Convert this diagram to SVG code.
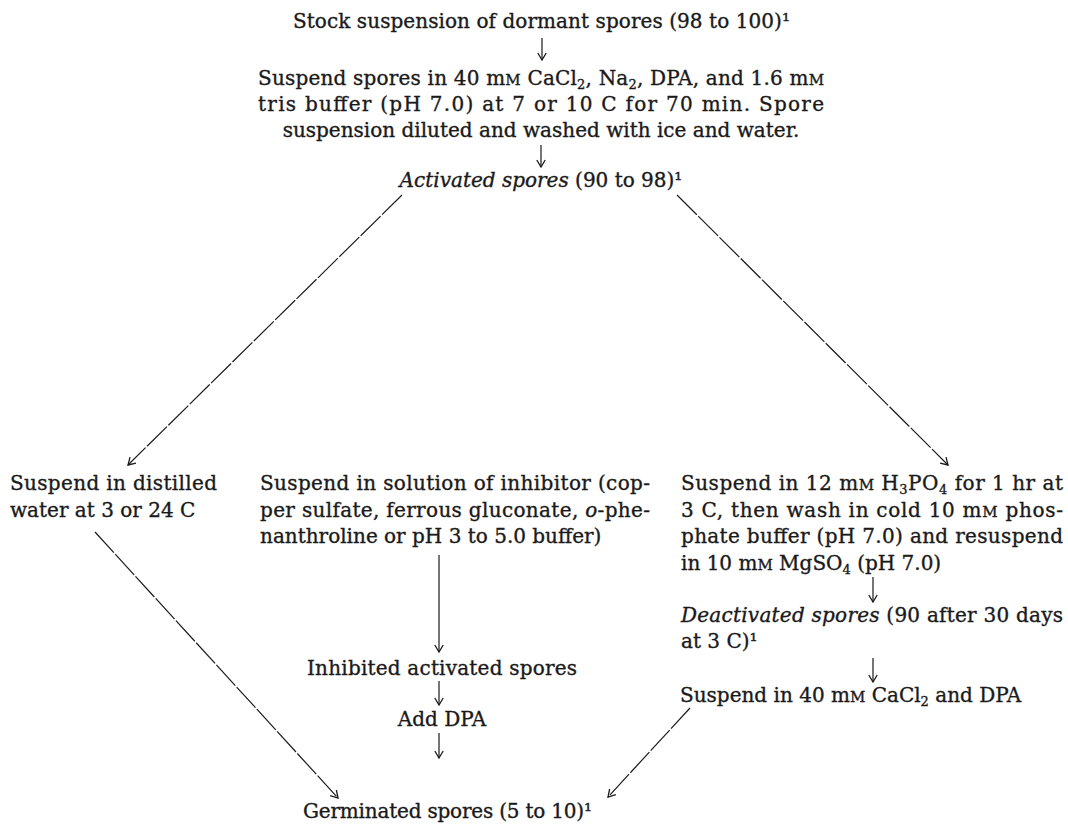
<svg xmlns="http://www.w3.org/2000/svg" width="1068" height="826" viewBox="0 0 1068 826">
<defs>
<marker id="ah" markerWidth="12" markerHeight="12" refX="10" refY="6" orient="auto" markerUnits="userSpaceOnUse">
<path d="M3,1.8 L10,6 L3,10.2" fill="none" stroke="#1a1a1a" stroke-width="1.3"/>
</marker>
</defs>
<style>
text{font-family:"DejaVu Serif","Liberation Serif",serif;font-size:20px;fill:#1a1a1a;stroke:#1a1a1a;stroke-width:0.35}
.sc{font-size:15px}
.sub{font-size:13px}
.it{font-style:italic}
.c{stroke:#1a1a1a;stroke-width:1.2;fill:none;marker-end:url(#ah)}
.d{stroke-dasharray:28 2}
</style>
<rect width="1068" height="826" fill="#fff"/>
<g id="connectors">
<line class="c" x1="542" y1="38" x2="542" y2="60"/>
<line class="c" x1="541" y1="145" x2="541" y2="167"/>
<line class="c d" x1="402" y1="195" x2="128" y2="465"/>
<line class="c d" x1="677" y1="195" x2="948" y2="465"/>
<line class="c d" x1="95" y1="532" x2="338" y2="798"/>
<line class="c d" x1="690" y1="708" x2="608" y2="797"/>
<line class="c" x1="439" y1="555" x2="439" y2="652"/>
<line class="c" x1="439" y1="681" x2="439" y2="705"/>
<line class="c" x1="439" y1="733" x2="439" y2="758"/>
<line class="c" x1="873" y1="577" x2="873" y2="602"/>
<line class="c" x1="873" y1="658" x2="873" y2="682"/>
</g>
<g id="stock">
<text x="293" y="28" textLength="497">Stock suspension of dormant spores (98 to 100)¹</text>
</g>
<g id="activation">
<text x="258" y="85" textLength="566">Suspend spores in 40 m<tspan class="sc">M</tspan> CaCl<tspan class="sub" dy="4">2</tspan><tspan dy="-4">, Na</tspan><tspan class="sub" dy="4">2</tspan><tspan dy="-4">, DPA, and 1.6 m</tspan><tspan class="sc">M</tspan></text>
<text x="258" y="111" textLength="566">tris buffer (pH 7.0) at 7 or 10 C for 70 min. Spore</text>
<text x="541" y="137" text-anchor="middle">suspension diluted and washed with ice and water.</text>
</g>
<g id="activated">
<text x="541" y="187" text-anchor="middle"><tspan class="it">Activated spores</tspan> (90 to 98)¹</text>
</g>
<g id="water">
<text x="10" y="490" textLength="207">Suspend in distilled</text>
<text x="10" y="517">water at 3 or 24 C</text>
</g>
<g id="inhibitor">
<text x="260" y="490" textLength="390">Suspend in solution of inhibitor (cop-</text>
<text x="260" y="517" textLength="390">per sulfate, ferrous gluconate, <tspan class="it">o</tspan>-phe-</text>
<text x="260" y="543">nanthroline or pH 3 to 5.0 buffer)</text>
</g>
<g id="phosphate">
<text x="681" y="490" textLength="382">Suspend in 12 m<tspan class="sc">M</tspan> H<tspan class="sub" dy="4">3</tspan><tspan dy="-4">PO</tspan><tspan class="sub" dy="4">4</tspan><tspan dy="-4"> for 1 hr at</tspan></text>
<text x="681" y="517" textLength="382">3 C, then wash in cold 10 m<tspan class="sc">M</tspan> phos-</text>
<text x="681" y="543" textLength="382">phate buffer (pH 7.0) and resuspend</text>
<text x="681" y="570">in 10 m<tspan class="sc">M</tspan> MgSO<tspan class="sub" dy="4">4</tspan><tspan dy="-4"> (pH 7.0)</tspan></text>
</g>
<g id="deactivated">
<text x="681" y="622" textLength="382"><tspan class="it">Deactivated spores</tspan> (90 after 30 days</text>
<text x="681" y="648">at 3 C)¹</text>
</g>
<g id="cacl">
<text x="680" y="702">Suspend in 40 m<tspan class="sc">M</tspan> CaCl<tspan class="sub" dy="4">2</tspan><tspan dy="-4"> and DPA</tspan></text>
</g>
<g id="inhibited">
<text x="307" y="675" textLength="270">Inhibited activated spores</text>
</g>
<g id="adddpa">
<text x="442" y="726" text-anchor="middle">Add DPA</text>
</g>
<g id="germinated">
<text x="303" y="818" textLength="289">Germinated spores (5 to 10)¹</text>
</g>
</svg>
